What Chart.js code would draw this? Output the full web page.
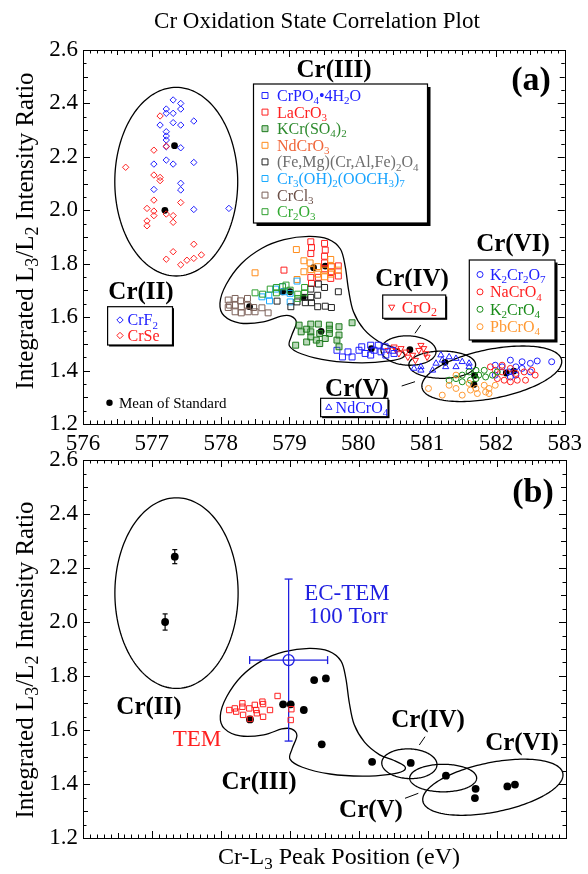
<!DOCTYPE html>
<html lang="en">
<head>
<meta charset="UTF-8">
<title>Cr Oxidation State Correlation Plot</title>
<script src="https://cdn.jsdelivr.net/npm/chart.js"></script>
<style>
  body { margin: 0; background: #fff; }
  .wrap { position: relative; width: 588px; height: 874px; }
  .wrap canvas { position: absolute; left: 0; }
</style>
</head>
<body>
<div class="wrap">
  <canvas id="chartA" width="588" height="460" style="top:0"></canvas>
  <canvas id="chartB" width="588" height="434" style="top:440px"></canvas>
</div>
<script>
// ---- data (eV, L3/L2 ratio) ----
// Cr(II)
var crf2X = [577.31,577.42,577.21,577.31,577.42,577.21,577.12,577.31,577.42,577.61,577.21,577.21,577.21,577.21,577.42,577.03,577.21,577.31,577.61,577.42,577.42,577.03,577.61,578.12];
var crf2Y = [2.413,2.400,2.379,2.363,2.379,2.363,2.319,2.328,2.319,2.334,2.294,2.278,2.263,2.238,2.234,2.173,2.188,2.173,2.179,2.101,2.076,2.078,2.003,2.007];
var crseX = [577.12,577.21,577.03,576.62,577.03,577.12,577.12,577.03,576.93,577.03,577.03,576.93,576.93,577.21,577.31,577.31,577.42,577.61,577.31,577.21,577.42,577.51,577.61,577.72];
var crseY = [2.353,2.240,2.225,2.161,2.132,2.123,2.111,2.038,2.007,1.997,1.980,1.960,1.942,1.986,1.980,1.955,2.029,1.873,1.845,1.817,1.796,1.813,1.820,1.833];
// Cr(III)
var crpoX = [579.69,579.77,579.91,580.01,580.10,580.18,580.23,580.29,580.39,580.50,579.85,580.33,580.40,580.52,580.18,580.05];
var crpoY = [1.476,1.451,1.451,1.476,1.464,1.495,1.476,1.495,1.489,1.476,1.470,1.470,1.458,1.464,1.458,1.489];
var lacrX = [579.31,579.32,579.31,579.51,579.52,579.51,578.92,579.31,579.32,579.51,579.51,579.61,579.61,579.71,579.71,579.60,579.42];
var lacrY = [1.882,1.861,1.838,1.876,1.851,1.828,1.776,1.749,1.726,1.803,1.781,1.789,1.770,1.792,1.754,1.745,1.749];
var kcrX = [579.14,579.31,579.42,579.58,579.72,579.91,579.17,579.31,579.44,579.58,579.72,579.09,579.25,579.39,579.52,579.69,579.72,579.31,579.44,579.25,579.58];
var kcrY = [1.570,1.574,1.574,1.570,1.564,1.579,1.545,1.545,1.539,1.539,1.533,1.495,1.507,1.514,1.520,1.514,1.489,1.526,1.501,1.555,1.555];
var ndcrX = [579.10,579.21,578.50,579.21,579.30,579.31,579.41,579.41,579.51,579.51,579.60,579.61,579.60,579.71,579.11];
var ndcrY = [1.853,1.811,1.766,1.770,1.803,1.778,1.789,1.761,1.776,1.751,1.816,1.789,1.761,1.776,1.741];
var femgX = [578.82,579.02,579.11,579.22,579.23,579.31,579.31,579.32,579.41,579.42,579.51,579.52,579.61,579.71,579.41];
var femgY = [1.660,1.639,1.657,1.674,1.654,1.705,1.674,1.654,1.639,1.724,1.711,1.641,1.636,1.695,1.682];
var crohX = [578.60,578.70,578.71,578.90,578.92,579.01,579.11,579.01,578.80];
var crohY = [1.676,1.682,1.661,1.714,1.695,1.689,1.735,1.657,1.705];
var crclX = [578.11,578.13,578.21,578.21,578.21,578.29,578.30,578.30,578.39,578.40,578.48,578.50,578.60,578.69,578.11,578.39];
var crclY = [1.664,1.645,1.670,1.645,1.620,1.661,1.639,1.616,1.670,1.620,1.636,1.620,1.635,1.616,1.636,1.645];
var cr2o3X = [578.50,578.61,578.81,578.81,578.90,579.01,579.12,579.22,579.22,578.95,579.12,578.72];
var cr2o3Y = [1.691,1.686,1.711,1.691,1.714,1.701,1.686,1.711,1.691,1.720,1.670,1.705];
// Cr(IV), Cr(V)
var cro2X = [580.43,580.52,580.59,580.62,580.69,580.72,580.79,580.88,580.91,580.98,581.00,580.83,580.55,580.95];
var cro2Y = [1.476,1.489,1.464,1.483,1.470,1.451,1.458,1.476,1.495,1.464,1.451,1.439,1.476,1.483];
var ndcro4X = [580.81,580.91,581.08,581.13,581.22,581.27,581.32,581.42,581.42,581.51,581.61,581.20,581.61,580.91];
var ndcro4Y = [1.408,1.401,1.401,1.427,1.439,1.414,1.451,1.445,1.414,1.433,1.427,1.458,1.414,1.414];
// Cr(VI)
var k2cr2X = [581.99,582.09,582.21,582.19,582.29,582.38,582.38,582.50,582.60,582.81,582.21,582.29,581.99,582.50];
var k2cr2Y = [1.420,1.414,1.439,1.395,1.414,1.433,1.408,1.427,1.436,1.433,1.376,1.383,1.383,1.395];
var nacrX = [581.92,581.99,582.02,582.09,582.12,582.21,582.21,582.29,582.31,582.41,582.43,582.52,582.57,582.09];
var nacrY = [1.414,1.401,1.370,1.395,1.364,1.408,1.358,1.389,1.364,1.395,1.364,1.401,1.383,1.420];
var k2crX = [581.32,581.42,581.51,581.61,581.63,581.71,581.75,581.83,581.85,581.95,582.02,581.51,581.71];
var k2crY = [1.364,1.370,1.383,1.395,1.364,1.401,1.383,1.401,1.376,1.383,1.395,1.358,1.370];
var pbcrX = [581.02,581.22,581.32,581.42,581.51,581.61,581.63,581.71,581.73,581.83,581.90,581.90,581.99,581.42,581.85];
var pbcrY = [1.333,1.308,1.345,1.333,1.308,1.352,1.327,1.333,1.314,1.345,1.333,1.314,1.345,1.383,1.320];
// mean of each standard
var meanX = [577.33,577.19,579.35,579.52,578.90,579.01,579.20,578.42,579.46,580.19,580.75,581.26,581.69,581.68,582.15,582.26];
var meanY = [2.242,2.000,1.785,1.791,1.695,1.695,1.674,1.639,1.547,1.482,1.478,1.431,1.382,1.348,1.391,1.398];
var meanErr = [0.026,0.030,0,0,0,0,0,0,0,0,0,0,0,0,0,0];
// panel (b) measurements
var temX = [578.12,578.20,578.22,578.31,578.31,578.32,578.41,578.49,578.51,578.52,578.60,578.61,578.61,578.71,578.82,579.02,579.01,578.42];
var temY = [1.674,1.680,1.668,1.699,1.686,1.656,1.680,1.693,1.674,1.662,1.705,1.696,1.649,1.674,1.726,1.677,1.637,1.641];
var ecX = [578.98];
var ecY = [1.859];
var ecXErr = [0.565];
var ecYErr = [0.30];
// region outlines (centre + two half-axis vectors, data units)
var ellCX = [577.355, 580.73, 581.22, 581.94];
var ellCY = [2.107, 1.475, 1.422, 1.388];
var ellUX = [0.893, 0.40, 0.485, 1.014];
var ellUY = [0, -0.003, 0, 0.052];
var ellVX = [0, 0, 0, 0.070];
var ellVY = [0.353, 0.055, 0.051, -0.090];
var blobX = [577.99,578.08,578.30,578.60,578.92,579.28,579.56,579.74,579.81,579.86,579.93,580.08,580.30,580.50,580.66,580.64,580.45,580.05,579.58,579.18,579.00,579.03,579.10,579.02,578.88,578.62,578.28,578.05];
var blobY = [1.652,1.722,1.800,1.858,1.890,1.902,1.892,1.855,1.790,1.700,1.620,1.555,1.508,1.488,1.466,1.448,1.436,1.429,1.437,1.462,1.492,1.530,1.580,1.604,1.604,1.582,1.578,1.605];

var xTicks = [576, 577, 578, 579, 580, 581, 582, 583];
var yTicks = [1.2, 1.4, 1.6, 1.8, 2.0, 2.2, 2.4, 2.6];

var SERIF = '"Liberation Serif", "Times New Roman", serif';

function pts(xs, ys) {
  return xs.map(function (x, i) { return { x: x, y: ys[i] }; });
}

// series look
var S = {
  crf2:  { label: 'CrF_2', style: 'rectRot', r: 3.2, color: '#2020ff', text: '#2020ff' },
  crse:  { label: 'CrSe', style: 'rectRot', r: 3.2, color: '#ff2020', text: '#ff2020' },
  crpo:  { label: 'CrPO_4•4H_2O', style: 'rect', r: 4.2, color: '#2020ff', text: '#2020ff' },
  lacr:  { label: 'LaCrO_3', style: 'rect', r: 4.2, color: '#ff2020', text: '#ff2020' },
  kcr:   { label: 'KCr(SO_4)_2', style: 'rect', r: 4.2, color: '#1c7a1c', fill: 'rgba(60,150,60,0.35)', text: '#2e8b2e' },
  ndcr:  { label: 'NdCrO_3', style: 'rect', r: 4.2, color: '#ff8c1a', text: '#f0663a' },
  femg:  { label: '(Fe,Mg)(Cr,Al,Fe)_2O_4', style: 'rect', r: 4.2, color: '#222222', text: '#6e6e6e' },
  croh:  { label: 'Cr_3(OH)_2(OOCH_3)_7', style: 'rect', r: 4.2, color: '#18aaff', text: '#18a4ff' },
  crcl:  { label: 'CrCl_3', style: 'rect', r: 4.2, color: '#7d625a', text: '#6b5048' },
  cr2o3: { label: 'Cr_2O_3', style: 'rect', r: 4.2, color: '#2e9e2e', text: '#33aa33' },
  cro2:  { label: 'CrO_2', style: 'triDown', r: 3.6, color: '#ff2020', text: '#ff2020' },
  ndcro4:{ label: 'NdCrO_4', style: 'triangle', r: 3.6, color: '#2020ff', text: '#2020ff' },
  k2cr2: { label: 'K_2Cr_2O_7', style: 'circle', r: 3, color: '#2020ff', text: '#2020ff' },
  nacr:  { label: 'NaCrO_4', style: 'circle', r: 3, color: '#ff2020', text: '#ff2020' },
  k2cr:  { label: 'K_2CrO_4', style: 'circle', r: 3, color: '#1a8c1a', text: '#1a8c1a' },
  pbcr:  { label: 'PbCrO_4', style: 'circle', r: 3, color: '#ff9933', text: '#ff9933' }
};

function series(s, xs, ys) {
  var style = s.style === 'triDown' ? 'triangle' : s.style;
  return {
    data: pts(xs, ys),
    pointStyle: style,
    pointRotation: s.style === 'triDown' ? 180 : 0,
    pointRadius: s.r,
    pointHoverRadius: s.r,
    pointBorderWidth: 1,
    pointBorderColor: s.color,
    pointBackgroundColor: s.fill || 'rgba(0,0,0,0)'
  };
}

// ---- drawing helpers ----
function richText(ctx, str, x, y, size, color, align, bold) {
  var segs = [], i = 0;
  while (i < str.length) {
    if (str[i] === '_') { segs.push({ t: str[i + 1], sub: true }); i += 2; }
    else {
      var j = i;
      while (j < str.length && str[j] !== '_') j++;
      segs.push({ t: str.slice(i, j), sub: false });
      i = j;
    }
  }
  var main = (bold ? 'bold ' : '') + size + 'px ' + SERIF;
  var small = (bold ? 'bold ' : '') + Math.round(size * 0.7) + 'px ' + SERIF;
  var w = 0;
  segs.forEach(function (s) { ctx.font = s.sub ? small : main; s.w = ctx.measureText(s.t).width; w += s.w; });
  var cx = align === 'center' ? x - w / 2 : (align === 'right' ? x - w : x);
  var base = y + size * 0.34;
  ctx.fillStyle = color;
  ctx.textAlign = 'left';
  ctx.textBaseline = 'alphabetic';
  segs.forEach(function (s) {
    ctx.font = s.sub ? small : main;
    ctx.fillText(s.t, cx, s.sub ? base + size * 0.2 : base);
    cx += s.w;
  });
}

function marker(ctx, s, x, y) {
  var r = s.r;
  ctx.save();
  ctx.lineWidth = 1;
  ctx.strokeStyle = s.color;
  ctx.beginPath();
  if (s.style === 'rect') {
    var h = r * Math.SQRT1_2;
    ctx.rect(x - h, y - h, 2 * h, 2 * h);
  } else if (s.style === 'rectRot') {
    ctx.moveTo(x, y - r); ctx.lineTo(x + r, y); ctx.lineTo(x, y + r); ctx.lineTo(x - r, y); ctx.closePath();
  } else if (s.style === 'circle') {
    ctx.arc(x, y, r, 0, 2 * Math.PI);
  } else {
    var d = s.style === 'triDown' ? -1 : 1;
    ctx.moveTo(x, y - d * r);
    ctx.lineTo(x + r * 0.866, y + d * r * 0.5);
    ctx.lineTo(x - r * 0.866, y + d * r * 0.5);
    ctx.closePath();
  }
  if (s.fill) { ctx.fillStyle = s.fill; ctx.fill(); }
  ctx.stroke();
  ctx.restore();
}

function box(ctx, x1, y1, x2, y2, shadow) {
  ctx.save();
  if (shadow) {
    ctx.fillStyle = '#000';
    ctx.fillRect(x1 + shadow, y1 + shadow, x2 - x1, y2 - y1);
  }
  ctx.fillStyle = '#fff';
  ctx.fillRect(x1, y1, x2 - x1, y2 - y1);
  ctx.strokeStyle = '#000';
  ctx.lineWidth = 1.2;
  ctx.strokeRect(x1, y1, x2 - x1, y2 - y1);
  ctx.restore();
}

function legendBox(ctx, b) {
  box(ctx, b.x1, b.y1, b.x2, b.y2, b.shadow);
  b.rows.forEach(function (s, i) {
    var y = b.y0 + i * b.dy;
    marker(ctx, s, b.mx, y);
    richText(ctx, s.label, b.tx, y, b.size, s.text, 'left', false);
  });
}

function line(ctx, x1, y1, x2, y2) {
  ctx.beginPath(); ctx.moveTo(x1, y1); ctx.lineTo(x2, y2); ctx.stroke();
}

function drawOutlines(chart) {
  var ctx = chart.ctx, xs = chart.scales.x, ys = chart.scales.y;
  ctx.save();
  ctx.strokeStyle = '#000';
  ctx.lineWidth = 1.3;
  for (var e = 0; e < ellCX.length; e++) {
    ctx.beginPath();
    for (var k = 0; k <= 160; k++) {
      var t = k / 160 * 2 * Math.PI;
      var px = xs.getPixelForValue(ellCX[e] + ellUX[e] * Math.cos(t) + ellVX[e] * Math.sin(t));
      var py = ys.getPixelForValue(ellCY[e] + ellUY[e] * Math.cos(t) + ellVY[e] * Math.sin(t));
      if (k) ctx.lineTo(px, py); else ctx.moveTo(px, py);
    }
    ctx.closePath();
    ctx.stroke();
  }
  // Cr(III) region, closed smooth curve through the outline points
  var P = blobX.map(function (x, i) { return [xs.getPixelForValue(x), ys.getPixelForValue(blobY[i])]; });
  var n = P.length;
  ctx.beginPath();
  ctx.moveTo(P[0][0], P[0][1]);
  for (var i = 0; i < n; i++) {
    var p0 = P[(i - 1 + n) % n], p1 = P[i], p2 = P[(i + 1) % n], p3 = P[(i + 2) % n];
    ctx.bezierCurveTo(p1[0] + (p2[0] - p0[0]) / 6, p1[1] + (p2[1] - p0[1]) / 6,
                      p2[0] - (p3[0] - p1[0]) / 6, p2[1] - (p3[1] - p1[1]) / 6, p2[0], p2[1]);
  }
  ctx.closePath();
  ctx.stroke();
  ctx.restore();
}

function drawFrame(chart) {
  var ctx = chart.ctx, a = chart.chartArea, xs = chart.scales.x, ys = chart.scales.y;
  ctx.save();
  ctx.strokeStyle = '#000';
  ctx.lineWidth = 1;
  ctx.strokeRect(Math.round(a.left) + 0.5, Math.round(a.top) + 0.5, Math.round(a.right - a.left), Math.round(a.bottom - a.top));
  for (var i = 0; i <= 70; i++) {
    var px = Math.round(xs.getPixelForValue(576 + i / 10)) + 0.5;
    var len = i % 10 === 0 ? 7 : (i % 5 === 0 ? 5 : 3.5);
    line(ctx, px, a.bottom, px, a.bottom - len);
    line(ctx, px, a.top, px, a.top + len);
  }
  for (var j = 0; j <= 28; j++) {
    var py = Math.round(ys.getPixelForValue(1.2 + j * 0.05)) + 0.5;
    var l2 = j % 4 === 0 ? 7 : (j % 2 === 0 ? 5 : 3.5);
    line(ctx, a.left, py, a.left + l2, py);
    line(ctx, a.right, py, a.right - l2, py);
  }
  ctx.restore();
}

function yTitle(ctx, cy) {
  ctx.save();
  ctx.translate(24, cy);
  ctx.rotate(-Math.PI / 2);
  richText(ctx, 'Integrated L_3/L_2 Intensity Ratio', 0, 0, 25, '#000', 'center', false);
  ctx.restore();
}

function axes(showX, bottomH) {
  return {
    x: {
      type: 'linear', min: 576, max: 583,
      grid: { display: false, drawTicks: false }, border: { display: false },
      afterBuildTicks: function (s) { s.ticks = xTicks.map(function (v) { return { value: v }; }); },
      ticks: { display: showX, padding: 6, color: '#000', font: { family: SERIF, size: 23 }, maxRotation: 0,
               callback: function (v) { return String(v); } },
      afterFit: function (s) { s.height = bottomH; }
    },
    y: {
      type: 'linear', min: 1.2, max: 2.6,
      grid: { display: false, drawTicks: false }, border: { display: false },
      afterBuildTicks: function (s) { s.ticks = yTicks.map(function (v) { return { value: v }; }); },
      ticks: { padding: 5, color: '#000', font: { family: SERIF, size: 23 },
               callback: function (v) { return Number(v).toFixed(1); } },
      afterFit: function (s) { s.width = 83; }
    }
  };
}

// ---- panel (a) ----
var decorA = {
  id: 'decorA',
  beforeDatasetsDraw: function (chart) { drawOutlines(chart); },
  afterDraw: function (chart) {
    var ctx = chart.ctx;
    drawFrame(chart);
    richText(ctx, 'Cr Oxidation State Correlation Plot', 317, 20, 23, '#000', 'center', false);
    yTitle(ctx, 231);
    richText(ctx, '(a)', 531, 78, 34, '#000', 'center', true);
    richText(ctx, 'Cr(III)', 334, 68, 25, '#000', 'center', true);
    richText(ctx, 'Cr(II)', 141, 290, 25, '#000', 'center', true);
    richText(ctx, 'Cr(IV)', 412, 277, 25, '#000', 'center', true);
    richText(ctx, 'Cr(V)', 357, 387, 25, '#000', 'center', true);
    richText(ctx, 'Cr(VI)', 513, 242, 25, '#000', 'center', true);
    ctx.save();
    ctx.strokeStyle = '#000'; ctx.lineWidth = 1;
    line(ctx, 420.7, 325, 415, 333.3);
    line(ctx, 401.7, 386, 415, 381.7);
    ctx.restore();
    legendBox(ctx, { x1: 253.5, y1: 84, x2: 427.5, y2: 223, shadow: 3, mx: 265, tx: 277, y0: 95.5, dy: 16.6, size: 16,
      rows: [S.crpo, S.lacr, S.kcr, S.ndcr, S.femg, S.croh, S.crcl, S.cr2o3] });
    legendBox(ctx, { x1: 107.6, y1: 306.7, x2: 172.5, y2: 345, shadow: 1.5, mx: 120, tx: 127.5, y0: 320, dy: 15.5, size: 16,
      rows: [S.crf2, S.crse] });
    legendBox(ctx, { x1: 469.3, y1: 260, x2: 555, y2: 340, shadow: 2.5, mx: 480, tx: 490, y0: 274.5, dy: 17.4, size: 16,
      rows: [S.k2cr2, S.nacr, S.k2cr, S.pbcr] });
    legendBox(ctx, { x1: 382.7, y1: 295, x2: 445.7, y2: 318.3, shadow: 1.5, mx: 391.7, tx: 401.7, y0: 307, dy: 0, size: 17,
      rows: [S.cro2] });
    legendBox(ctx, { x1: 320.6, y1: 398.3, x2: 388, y2: 416.7, shadow: 1.5, mx: 328.8, tx: 335.6, y0: 407.5, dy: 0, size: 16,
      rows: [S.ndcro4] });
    ctx.save();
    ctx.fillStyle = '#000';
    ctx.beginPath(); ctx.arc(109.5, 402.7, 3.2, 0, 2 * Math.PI); ctx.fill();
    ctx.restore();
    richText(ctx, 'Mean of Standard', 119, 402.7, 15, '#000', 'left', false);
  }
};

var meansA = {
  data: pts(meanX, meanY), pointStyle: 'circle', pointRadius: 3.4, pointHoverRadius: 3.4,
  pointBorderWidth: 0, pointBackgroundColor: '#000', pointBorderColor: '#000'
};

new Chart(document.getElementById('chartA'), {
  type: 'scatter',
  data: {
    datasets: [
      series(S.crcl, crclX, crclY), series(S.cr2o3, cr2o3X, cr2o3Y), series(S.femg, femgX, femgY),
      series(S.croh, crohX, crohY), series(S.kcr, kcrX, kcrY), series(S.ndcr, ndcrX, ndcrY),
      series(S.lacr, lacrX, lacrY), series(S.crpo, crpoX, crpoY),
      series(S.crse, crseX, crseY), series(S.crf2, crf2X, crf2Y),
      series(S.pbcr, pbcrX, pbcrY), series(S.k2cr, k2crX, k2crY), series(S.nacr, nacrX, nacrY),
      series(S.k2cr2, k2cr2X, k2cr2Y), series(S.ndcro4, ndcro4X, ndcro4Y), series(S.cro2, cro2X, cro2Y),
      meansA
    ]
  },
  options: {
    responsive: false, animation: false, devicePixelRatio: 1,
    layout: { padding: { top: 50, right: 22, left: 0, bottom: 0 } },
    plugins: { legend: { display: false }, tooltip: { enabled: false } },
    scales: axes(true, 36)
  },
  plugins: [decorA]
});

// ---- panel (b) ----
var decorB = {
  id: 'decorB',
  beforeDatasetsDraw: function (chart) {
    drawOutlines(chart);
    var ctx = chart.ctx, xs = chart.scales.x, ys = chart.scales.y;
    ctx.save();
    ctx.strokeStyle = '#000'; ctx.lineWidth = 1.2;
    meanX.forEach(function (x, i) {
      if (!meanErr[i]) return;
      var px = xs.getPixelForValue(x);
      var t = ys.getPixelForValue(meanY[i] + meanErr[i]), b = ys.getPixelForValue(meanY[i] - meanErr[i]);
      line(ctx, px, t, px, b); line(ctx, px - 2.5, t, px + 2.5, t); line(ctx, px - 2.5, b, px + 2.5, b);
    });
    ctx.strokeStyle = '#1f1fe0'; ctx.lineWidth = 1.3;
    ecX.forEach(function (x, i) {
      var cx = xs.getPixelForValue(x), cy = ys.getPixelForValue(ecY[i]);
      var l = xs.getPixelForValue(x - ecXErr[i]), r = xs.getPixelForValue(x + ecXErr[i]);
      var t = ys.getPixelForValue(ecY[i] + ecYErr[i]), b = ys.getPixelForValue(ecY[i] - ecYErr[i]);
      line(ctx, l, cy, r, cy); line(ctx, l, cy - 4, l, cy + 4); line(ctx, r, cy - 4, r, cy + 4);
      line(ctx, cx, t, cx, b); line(ctx, cx - 4, t, cx + 4, t); line(ctx, cx - 4, b, cx + 4, b);
    });
    ctx.restore();
  },
  afterDraw: function (chart) {
    var ctx = chart.ctx;
    drawFrame(chart);
    yTitle(ctx, 220);
    richText(ctx, 'Cr-L_3 Peak Position (eV)', 339, 416, 24, '#000', 'center', false);
    richText(ctx, '(b)', 533, 50, 34, '#000', 'center', true);
    richText(ctx, 'EC-TEM', 347, 151.7, 23, '#1f1fe0', 'center', false);
    richText(ctx, '100 Torr', 348, 175, 23, '#1f1fe0', 'center', false);
    richText(ctx, 'TEM', 197, 298, 23, '#ff2020', 'center', false);
    richText(ctx, 'Cr(II)', 149, 265, 25, '#000', 'center', true);
    richText(ctx, 'Cr(III)', 259, 340, 25, '#000', 'center', true);
    richText(ctx, 'Cr(IV)', 428, 278, 25, '#000', 'center', true);
    richText(ctx, 'Cr(V)', 371, 368, 25, '#000', 'center', true);
    richText(ctx, 'Cr(VI)', 522, 301.7, 25, '#000', 'center', true);
    ctx.save();
    ctx.strokeStyle = '#000'; ctx.lineWidth = 1;
    line(ctx, 425, 296.7, 419.3, 305);
    line(ctx, 405, 358.3, 418.3, 353.3);
    ctx.restore();
  }
};

new Chart(document.getElementById('chartB'), {
  type: 'scatter',
  data: {
    datasets: [
      { data: pts(temX, temY), pointStyle: 'rect', pointRadius: 3.8, pointHoverRadius: 3.8, pointBorderWidth: 1,
        pointBorderColor: '#ff2020', pointBackgroundColor: 'rgba(0,0,0,0)' },
      { data: pts(meanX, meanY), pointStyle: 'circle', pointRadius: 3.9, pointHoverRadius: 3.9, pointBorderWidth: 0,
        pointBackgroundColor: '#000', pointBorderColor: '#000' },
      { data: pts(ecX, ecY), pointStyle: 'circle', pointRadius: 5.5, pointHoverRadius: 5.5, pointBorderWidth: 1.3,
        pointBorderColor: '#1f1fe0', pointBackgroundColor: 'rgba(0,0,0,0)' }
    ]
  },
  options: {
    responsive: false, animation: false, devicePixelRatio: 1,
    layout: { padding: { top: 20, right: 22, left: 0, bottom: 0 } },
    plugins: { legend: { display: false }, tooltip: { enabled: false } },
    scales: axes(false, 36)
  },
  plugins: [decorB]
});
</script>
</body>
</html>
